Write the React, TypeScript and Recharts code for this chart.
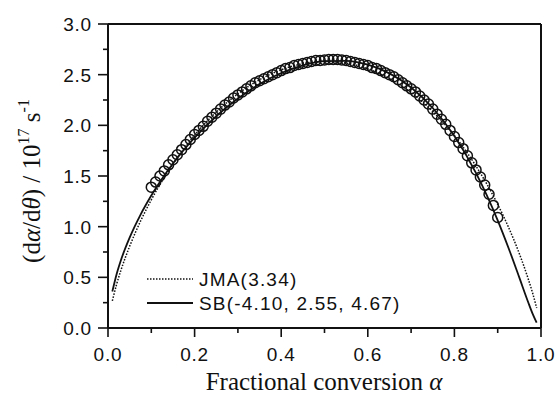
import React from "react";
import {
  ComposedChart,
  Line,
  Scatter,
  XAxis,
  YAxis,
  ReferenceLine,
} from "recharts";

// Fit curves (alpha grid shared by both model curves)
const alphaFit = [
  0.01, 0.02, 0.03, 0.05, 0.075, 0.1, 0.15, 0.2, 0.25, 0.3, 0.35, 0.4, 0.45,
  0.5, 0.55, 0.6, 0.65, 0.7, 0.75, 0.8, 0.85, 0.9, 0.925, 0.95, 0.97, 0.98,
  0.99,
];
const jmaValues = [
  0.268, 0.433, 0.571, 0.806, 1.053, 1.265, 1.618, 1.902, 2.131, 2.311, 2.45,
  2.548, 2.608, 2.63, 2.614, 2.558, 2.462, 2.323, 2.137, 1.898, 1.597, 1.22,
  0.994, 0.733, 0.491, 0.354, 0.198,
];
const sbValues = [
  0.36, 0.533, 0.671, 0.892, 1.117, 1.307, 1.623, 1.878, 2.09, 2.264, 2.407,
  2.516, 2.592, 2.633, 2.637, 2.599, 2.513, 2.374, 2.171, 1.894, 1.529, 1.063,
  0.79, 0.497, 0.259, 0.147, 0.052,
];

// Experimental points (open circles), alpha = 0.10 ... 0.90
const alphaExp = [
  0.1, 0.11, 0.12, 0.13, 0.14, 0.15, 0.16, 0.17, 0.18, 0.19, 0.2, 0.21, 0.22,
  0.23, 0.24, 0.25, 0.26, 0.27, 0.28, 0.29, 0.3, 0.31, 0.32, 0.33, 0.34, 0.35,
  0.36, 0.37, 0.38, 0.39, 0.4, 0.41, 0.42, 0.43, 0.44, 0.45, 0.46, 0.47, 0.48,
  0.49, 0.5, 0.51, 0.52, 0.53, 0.54, 0.55, 0.56, 0.57, 0.58, 0.59, 0.6, 0.61,
  0.62, 0.63, 0.64, 0.65, 0.66, 0.67, 0.68, 0.69, 0.7, 0.71, 0.72, 0.73, 0.74,
  0.75, 0.76, 0.77, 0.78, 0.79, 0.8, 0.81, 0.82, 0.83, 0.84, 0.85, 0.86, 0.87,
  0.88, 0.89, 0.9,
];
const expValues = [
  1.39, 1.44, 1.5, 1.55, 1.61, 1.66, 1.71, 1.76, 1.81, 1.86, 1.91, 1.95, 1.99,
  2.04, 2.08, 2.12, 2.16, 2.2, 2.23, 2.27, 2.3, 2.33, 2.36, 2.39, 2.42, 2.44,
  2.46, 2.48, 2.5, 2.52, 2.54, 2.56, 2.57, 2.59, 2.6, 2.61, 2.62, 2.63, 2.64,
  2.64, 2.645, 2.65, 2.65, 2.65, 2.645, 2.64, 2.63, 2.62, 2.61, 2.6, 2.59,
  2.57, 2.56, 2.54, 2.52, 2.5, 2.48, 2.45, 2.42, 2.39, 2.36, 2.33, 2.29, 2.25,
  2.21, 2.16, 2.11, 2.06, 2.01, 1.95, 1.89, 1.83, 1.77, 1.7, 1.63, 1.56, 1.49,
  1.41, 1.32, 1.21, 1.09,
];

const xTicks = [0, 0.1, 0.2, 0.3, 0.4, 0.5, 0.6, 0.7, 0.8, 0.9, 1.0];
const yTicks = [0, 0.25, 0.5, 0.75, 1.0, 1.25, 1.5, 1.75, 2.0, 2.25, 2.5, 2.75, 3.0];

const legendJMA = "JMA(3.34)";
const legendSB = "SB(-4.10, 2.55, 4.67)";

const jmaData = alphaFit.map((x, i) => ({ x, y: jmaValues[i] }));
const sbData = alphaFit.map((x, i) => ({ x, y: sbValues[i] }));
const expData = alphaExp.map((x, i) => ({ x, y: expValues[i] }));

const INK = "#111";
const SANS = "'Liberation Sans', Arial, sans-serif";
const SERIF = "'Liberation Serif', 'Times New Roman', serif";

const YTick = (props: any) => {
  const { x, y, payload } = props;
  const v = payload.value as number;
  const major = Math.abs(v * 2 - Math.round(v * 2)) < 1e-6;
  return (
    <g>
      <line x1={x - (major ? 10 : 5)} x2={x} y1={y} y2={y} stroke={INK} strokeWidth={1.6} />
      {major && (
        <text
          x={x - 16}
          y={y}
          dy="0.36em"
          textAnchor="end"
          fontFamily={SANS}
          fontSize={19}
          letterSpacing={0.8}
          fill={INK}
        >
          {v.toFixed(1)}
        </text>
      )}
    </g>
  );
};

const XTick = (props: any) => {
  const { x, y, payload } = props;
  const v = payload.value as number;
  const major = Math.abs(v * 5 - Math.round(v * 5)) < 1e-6;
  return (
    <g>
      <line x1={x} x2={x} y1={y} y2={y + (major ? 9 : 5)} stroke={INK} strokeWidth={1.6} />
      {major && (
        <text
          x={x}
          y={y + 33}
          textAnchor="middle"
          fontFamily={SANS}
          fontSize={19}
          letterSpacing={0.8}
          fill={INK}
        >
          {v.toFixed(1)}
        </text>
      )}
    </g>
  );
};

const XTitle = () => (
  <text x={324} y={390} textAnchor="middle" fontFamily={SERIF} fontSize={25} fill={INK}>
    Fractional conversion <tspan fontStyle="italic">α</tspan>
  </text>
);

const YTitle = () => (
  <text
    transform="translate(40,181) rotate(-90)"
    textAnchor="middle"
    fontFamily={SERIF}
    fontSize={25}
    fill={INK}
  >
    (d<tspan fontStyle="italic">α</tspan>/d<tspan fontStyle="italic">θ</tspan>) / 10
    <tspan fontSize={16} dy={-11}>17</tspan>
    <tspan dy={11}> s</tspan>
    <tspan fontSize={16} dy={-11}>-1</tspan>
  </text>
);

const LegendBox = () => (
  <g>
    <line x1={147} x2={193} y1={279} y2={279} stroke={INK} strokeWidth={1.5} strokeDasharray="1.5 1.5" />
    <text x={199} y={279} dy="0.36em" fontFamily={SANS} fontSize={19} letterSpacing={1.2} fill={INK}>
      {legendJMA}
    </text>
    <line x1={147} x2={193} y1={303} y2={303} stroke={INK} strokeWidth={2} />
    <text x={199} y={303} dy="0.36em" fontFamily={SANS} fontSize={19} letterSpacing={1.2} fill={INK}>
      {legendSB}
    </text>
  </g>
);

const OpenCircle = (props: any) => {
  const { cx, cy } = props;
  return <circle cx={cx} cy={cy} r={5} fill="none" stroke={INK} strokeWidth={1.5} />;
};

export default function App() {
  return (
    <div style={{ position: "absolute", left: 0, top: 0, background: "#fff" }}>
      <ComposedChart
        width={559}
        height={399}
        margin={{ top: 24, right: 18, bottom: 0, left: 0 }}
      >
        <XAxis
          dataKey="x"
          type="number"
          domain={[0, 1]}
          ticks={xTicks}
          interval={0}
          height={71}
          tickSize={0}
          tickMargin={0}
          tickLine={false}
          axisLine={{ stroke: INK, strokeWidth: 2 }}
          tick={<XTick />}
          allowDataOverflow
          label={<XTitle />}
        />
        <YAxis
          type="number"
          domain={[0, 3]}
          ticks={yTicks}
          interval={0}
          width={108}
          tickSize={0}
          tickMargin={0}
          tickLine={false}
          axisLine={{ stroke: INK, strokeWidth: 2 }}
          tick={<YTick />}
          allowDataOverflow
          label={<YTitle />}
        />
        <ReferenceLine y={3} stroke={INK} strokeWidth={2} />
        <ReferenceLine x={1} stroke={INK} strokeWidth={2} label={<LegendBox />} />
        <Scatter
          data={expData}
          dataKey="y"
          shape={<OpenCircle />}
          isAnimationActive={false}
        />
        <Line
          data={jmaData}
          dataKey="y"
          type="monotone"
          dot={false}
          stroke={INK}
          strokeWidth={1.5}
          strokeDasharray="1.5 1.5"
          isAnimationActive={false}
        />
        <Line
          data={sbData}
          dataKey="y"
          type="monotone"
          dot={false}
          stroke={INK}
          strokeWidth={1.8}
          isAnimationActive={false}
        />
      </ComposedChart>
    </div>
  );
}
